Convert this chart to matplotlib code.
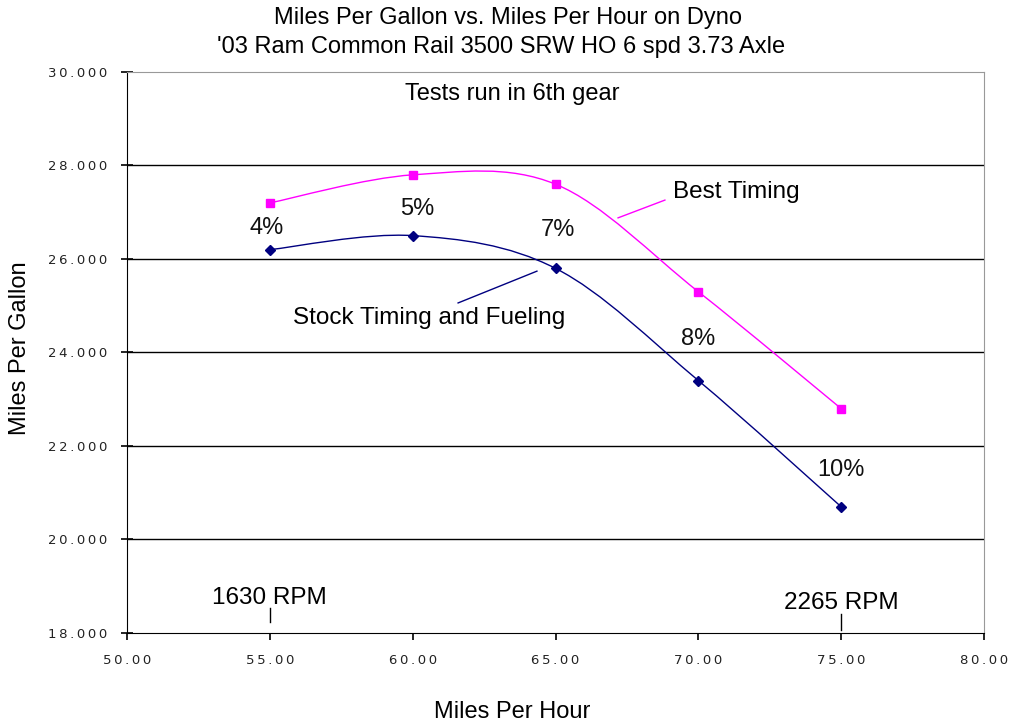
import matplotlib
matplotlib.use('Agg')
import matplotlib.pyplot as plt
from matplotlib.path import Path
from matplotlib.patches import PathPatch

# data
mph = [55, 60, 65, 70, 75]
stock_mpg = [26.2, 26.5, 25.8, 23.4, 20.7]
best_mpg = [27.2, 27.8, 27.6, 25.3, 22.8]
pct_labels = ['4%', '5%', '7%', '8%', '10%']
pct_x = [54.9, 60.15, 65.1, 70.0, 75.0]
pct_y = [26.66, 27.07, 26.62, 24.29, 21.49]
y_ticks = [18, 20, 22, 24, 26, 28, 30]
x_ticks = [50, 55, 60, 65, 70, 75, 80]

FONT = 'Liberation Sans'
NAVY = '#000080'
MAGENTA = '#ff00ff'
TS = '\u2009'  # thin space, the tick labels are widely spaced


def spaced(s):
    return TS.join(s)


def smooth_path(xs, ys):
    # excel style smoothed line: bezier segments through every point
    pts = list(zip(xs, ys))
    verts = [pts[0]]
    codes = [Path.MOVETO]
    n = len(pts)
    for i in range(n - 1):
        p0 = pts[i - 1] if i > 0 else pts[i]
        p1 = pts[i]
        p2 = pts[i + 1]
        p3 = pts[i + 2] if i + 2 < n else pts[i + 1]
        c1 = (p1[0] + (p2[0] - p0[0]) / 6, p1[1] + (p2[1] - p0[1]) / 6)
        c2 = (p2[0] - (p3[0] - p1[0]) / 6, p2[1] - (p3[1] - p1[1]) / 6)
        verts += [c1, c2, p2]
        codes += [Path.CURVE4] * 3
    return Path(verts, codes)


fig = plt.figure(figsize=(10.09, 7.25), dpi=100)
ax = fig.add_axes([0.1259, 0.1269, 0.8493, 0.7738])
ax.set_xlim(50, 80)
ax.set_ylim(18, 30)

for y in y_ticks[1:-1]:
    ax.axhline(y, color='black', lw=1.0, zorder=1)

ax.add_patch(PathPatch(smooth_path(mph, best_mpg), fill=False, edgecolor=MAGENTA, lw=1, zorder=2))
ax.add_patch(PathPatch(smooth_path(mph, stock_mpg), fill=False, edgecolor=NAVY, lw=1, zorder=2))
ax.plot(mph, best_mpg, ls='none', marker='s', ms=6, color=MAGENTA, zorder=3)
ax.plot(mph, stock_mpg, ls='none', marker='D', ms=5, color=NAVY, zorder=3)

for x, y, t in zip(pct_x, pct_y, pct_labels):
    ax.text(x, y, t, ha='center', va='center', fontsize=17, family=FONT, color='#111111')

ax.text(63.48, 29.53, 'Tests run in 6th gear', ha='center', va='center', fontsize=17, family=FONT)
ax.text(71.32, 27.43, 'Best Timing', ha='center', va='center', fontsize=17.5, family=FONT)
ax.plot([67.19, 68.83], [26.88, 27.26], color=MAGENTA, lw=1)
ax.text(60.57, 24.74, 'Stock Timing and Fueling', ha='center', va='center', fontsize=17.5, family=FONT)
ax.plot([61.59, 64.35], [25.06, 25.74], color=NAVY, lw=1)

ax.text(55, 18.75, '1630 RPM', ha='center', va='center', fontsize=17.5, family=FONT)
ax.plot([55, 55], [18.24, 18.53], color='black', lw=1)
ax.text(75, 18.64, '2265 RPM', ha='center', va='center', fontsize=17.5, family=FONT)
ax.plot([75, 75], [18.06, 18.41], color='black', lw=1)

ax.set_xticks(x_ticks)
ax.set_xticklabels([spaced('%.2f' % v) for v in x_ticks])
ax.set_yticks(y_ticks)
ax.set_yticklabels([spaced('%.3f' % v) for v in y_ticks])
ax.tick_params(axis='both', labelsize=9.5, colors='black', width=1.2)
ax.tick_params(axis='y', direction='inout', length=8, pad=10)
ax.tick_params(axis='x', direction='out', length=5, pad=10)
for lab in ax.get_xticklabels() + ax.get_yticklabels():
    lab.set_color('#222222')

ax.spines['left'].set_color('black')
ax.spines['bottom'].set_color('black')
ax.spines['top'].set_color('#999999')
ax.spines['right'].set_color('#999999')

ax.set_xlabel('Miles Per Hour', fontsize=17, family=FONT, va='center')
ax.xaxis.set_label_coords(0.449, -0.141)
ax.set_ylabel('Miles Per Gallon', fontsize=17, family=FONT, va='center')
ax.yaxis.set_label_coords(-0.125, 0.508)
fig.text(0.503, 0.975, 'Miles Per Gallon vs. Miles Per Hour on Dyno',
         ha='center', va='center', fontsize=17, family=FONT)
fig.text(0.497, 0.935, "'03 Ram Common Rail 3500 SRW HO 6 spd 3.73 Axle",
         ha='center', va='center', fontsize=17, family=FONT)

fig.savefig('out.png', dpi=100)
